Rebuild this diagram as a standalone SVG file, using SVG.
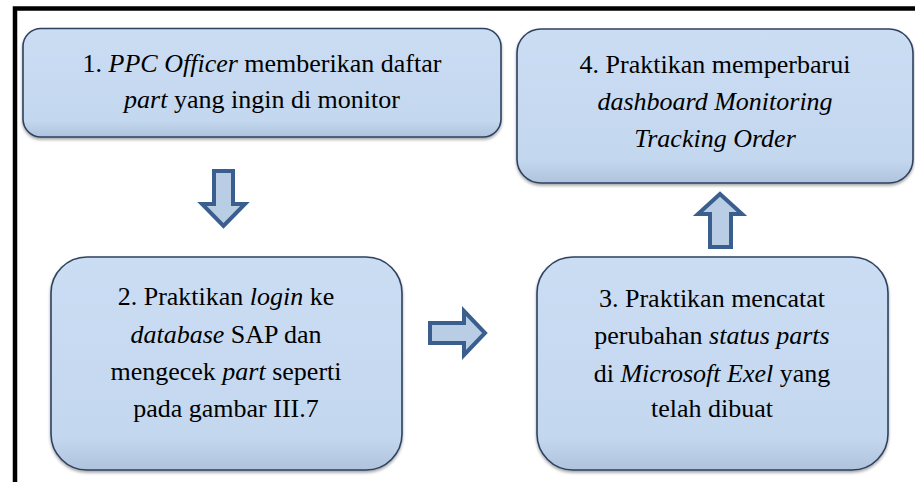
<svg xmlns="http://www.w3.org/2000/svg" width="915" height="482" viewBox="0 0 915 482">
<defs>
<linearGradient id="boxg" x1="0" y1="0" x2="0" y2="1">
<stop offset="0" stop-color="#CBDDF3"/>
<stop offset="0.85" stop-color="#C3D7EF"/>
<stop offset="1" stop-color="#AFC3DC"/>
</linearGradient>
<filter id="sh" x="-5%" y="-5%" width="110%" height="115%">
<feGaussianBlur in="SourceAlpha" stdDeviation="1.5"/>
<feOffset dx="0" dy="1.5" result="b"/>
<feFlood flood-color="#000" flood-opacity="0.35"/>
<feComposite in2="b" operator="in"/>
<feMerge><feMergeNode/><feMergeNode in="SourceGraphic"/></feMerge>
</filter>
<style>
.box{fill:url(#boxg);stroke:#2E4260;stroke-width:1.6;filter:url(#sh)}
text{font-family:"Liberation Serif","Times New Roman","DejaVu Serif",serif;font-size:26px;fill:#000;text-anchor:middle}
.i{font-style:italic}
.arr{fill:#B9CDE5;stroke:#3A5E8E;stroke-width:4;stroke-linejoin:miter}
</style>
</defs>
<rect width="915" height="482" fill="#fff"/>
<path d="M15,482 L15,8.5 L915,8.5" fill="none" stroke="#000" stroke-width="4.5"/>

<g id="node1">
<rect class="box" x="23" y="28.5" width="478" height="108.5" rx="18"/>
<text x="262" y="72">1. <tspan class="i">PPC Officer</tspan> memberikan daftar</text>
<text x="262" y="108"><tspan class="i">part</tspan> yang ingin di monitor</text>
</g>

<g id="node4">
<rect class="box" x="517" y="29" width="396" height="154" rx="24"/>
<text x="715" y="73">4. Praktikan memperbarui</text>
<text class="i" x="715" y="110">dashboard Monitoring</text>
<text class="i" x="715" y="147">Tracking Order</text>
</g>

<g id="node2">
<rect class="box" x="51" y="257" width="351" height="213" rx="36"/>
<text x="226" y="305">2. Praktikan <tspan class="i">login</tspan> ke</text>
<text x="226" y="342.5"><tspan class="i">database</tspan> SAP dan</text>
<text x="226" y="380">mengecek <tspan class="i">part</tspan> seperti</text>
<text x="226" y="417">pada gambar III.7</text>
</g>

<g id="node3">
<rect class="box" x="537" y="257" width="351" height="213" rx="36"/>
<text x="712" y="307">3. Praktikan mencatat</text>
<text x="712" y="344">perubahan <tspan class="i">status parts</tspan></text>
<text x="712" y="381.5">di <tspan class="i">Microsoft Exel</tspan> yang</text>
<text x="712" y="417">telah dibuat</text>
</g>

<g id="connectors">
<path class="arr" d="M214,171 L233,171 L233,204 L245,204 L223.5,226 L202,204 L214,204 Z"/>
<path class="arr" d="M430,323 L464,323 L464,311 L485,333 L464,355 L464,343 L430,343 Z"/>
<path class="arr" d="M720,194 L742,214 L731,214 L731,247 L710,247 L710,214 L698,214 Z"/>
</g>
</svg>
